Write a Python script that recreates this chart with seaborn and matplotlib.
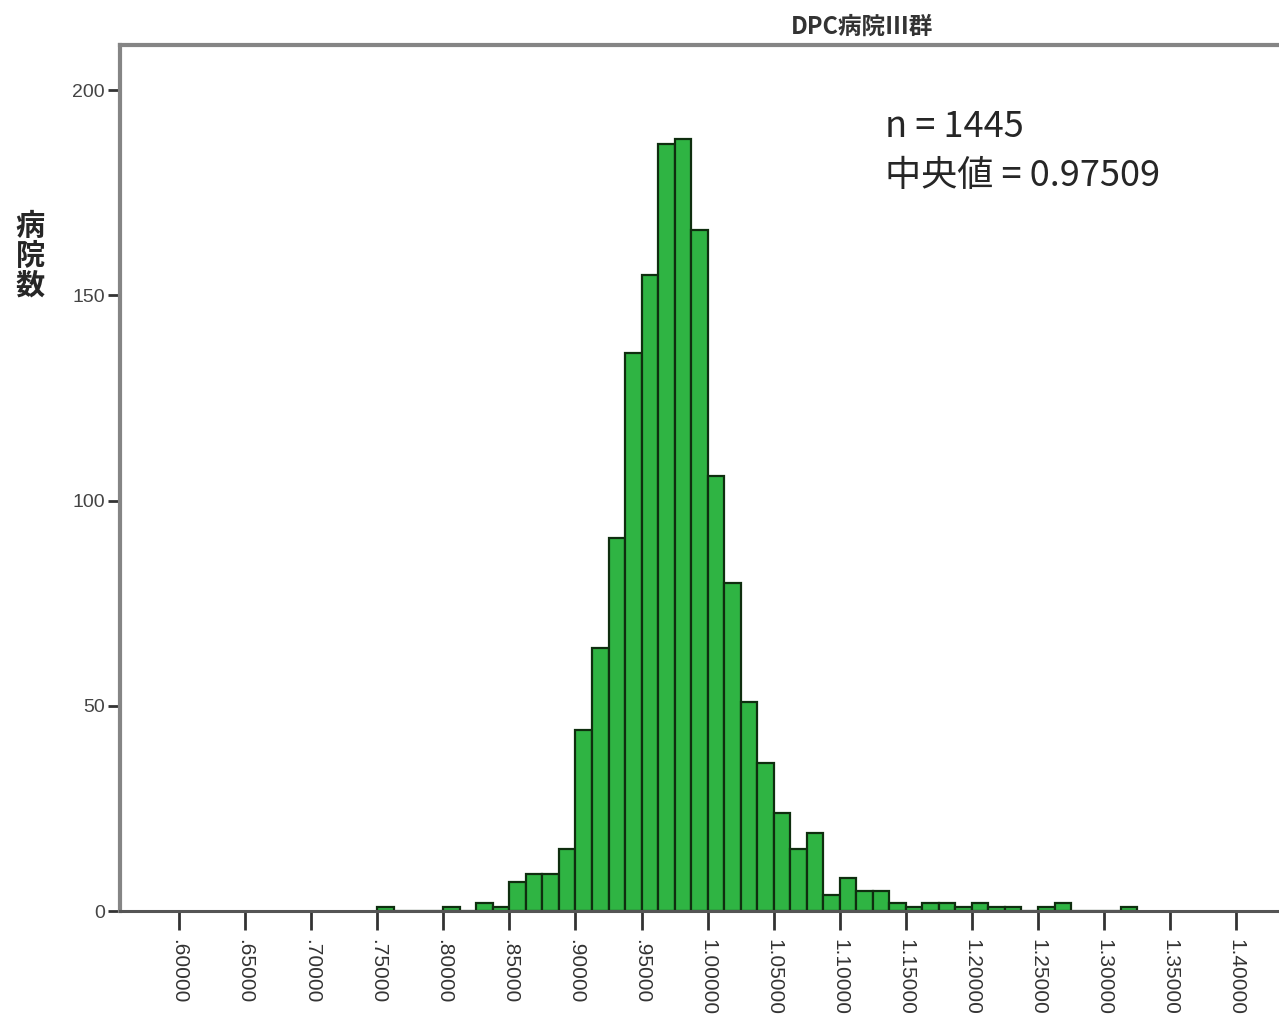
import matplotlib
matplotlib.use('Agg')
import matplotlib.pyplot as plt
import seaborn as sns
import numpy as np
import pandas as pd

# ビンの下限値と病院数 (bin width 0.0125)
bin_left = [0.7500, 0.7625, 0.7750, 0.7875, 0.8000, 0.8125, 0.8250, 0.8375,
            0.8500, 0.8625, 0.8750, 0.8875, 0.9000, 0.9125, 0.9250, 0.9375,
            0.9500, 0.9625, 0.9750, 0.9875, 1.0000, 1.0125, 1.0250, 1.0375,
            1.0500, 1.0625, 1.0750, 1.0875, 1.1000, 1.1125, 1.1250, 1.1375,
            1.1500, 1.1625, 1.1750, 1.1875, 1.2000, 1.2125, 1.2250, 1.2375,
            1.2500, 1.2625, 1.2750, 1.2875, 1.3000, 1.3125]
counts = [1, 0, 0, 0, 1, 0, 2, 1,
          7, 9, 9, 15, 44, 64, 91, 136,
          155, 187, 188, 166, 106, 80, 51, 36,
          24, 15, 19, 4, 8, 5, 5, 2,
          1, 2, 2, 1, 2, 1, 1, 0,
          1, 2, 0, 0, 0, 1]
bin_width = 0.0125

x_ticks = [0.60, 0.65, 0.70, 0.75, 0.80, 0.85, 0.90, 0.95, 1.00,
           1.05, 1.10, 1.15, 1.20, 1.25, 1.30, 1.35, 1.40]
x_ticklabels = ['.60000', '.65000', '.70000', '.75000', '.80000', '.85000',
                '.90000', '.95000', '1.00000', '1.05000', '1.10000', '1.15000',
                '1.20000', '1.25000', '1.30000', '1.35000', '1.40000']
y_ticks = [0, 50, 100, 150, 200]

title = 'DPC病院Ⅲ群'
ylabel = '病\n院\n数'
n_text = 'n = 1445'
median_text = '中央値 = 0.97509'

sns.set_style('white')
plt.rcParams['font.family'] = ['Liberation Sans', 'Noto Sans CJK JP', 'DejaVu Sans']

df = pd.DataFrame({'mid': np.array(bin_left) + bin_width / 2, 'count': counts})

fig = plt.figure(figsize=(12.79, 10.16), dpi=100)
ax = fig.add_axes([0.0938, 0.1033, 0.912, 0.8524])

sns.histplot(data=df, x='mid', weights='count', binwidth=bin_width,
             binrange=(bin_left[0], bin_left[-1] + bin_width),
             color='#2fb443', edgecolor='#0f2e0f', linewidth=1.6, alpha=1.0, ax=ax)

ax.set_xlim(0.5553, 1.438)
ax.set_ylim(0, 211)

ax.set_xticks(x_ticks)
ax.set_xticklabels(x_ticklabels, rotation=-90, fontsize=15, color='#333333')
ax.set_yticks(y_ticks)
ax.set_yticklabels([str(v) for v in y_ticks], fontsize=14, color='#444444')
ax.tick_params(axis='x', direction='out', length=14, width=2, color='#333333', pad=6,
               bottom=True)
ax.tick_params(axis='y', direction='out', length=9, width=2, color='#333333', pad=2,
               left=True)

ax.set_xlabel('')
ax.set_ylabel('')

for side in ['left', 'top']:
    ax.spines[side].set_color('#858585')
    ax.spines[side].set_linewidth(3)
ax.spines['bottom'].set_color('#555555')
ax.spines['bottom'].set_linewidth(2.2)
ax.spines['right'].set_visible(False)

fig.text(862 / 1279, 1 - 27 / 1016, title, ha='center', va='center',
         fontsize=17, fontweight='bold', color='#333333',
         family=['Noto Sans CJK JP', 'DejaVu Sans'])

fig.text(30 / 1279, 1 - 256 / 1016, ylabel, ha='center', va='center',
         fontsize=21, fontweight='bold', linespacing=1.0,
         family=['Noto Sans CJK JP', 'DejaVu Sans'])

fig.text(885 / 1279, 1 - 127 / 1016, n_text, ha='left', va='center',
         fontsize=26, family=['Noto Sans CJK JP', 'DejaVu Sans'])
fig.text(885 / 1279, 1 - 176 / 1016, median_text, ha='left', va='center',
         fontsize=26, family=['Noto Sans CJK JP', 'DejaVu Sans'])

fig.savefig('out.png', dpi=100, facecolor='white')
